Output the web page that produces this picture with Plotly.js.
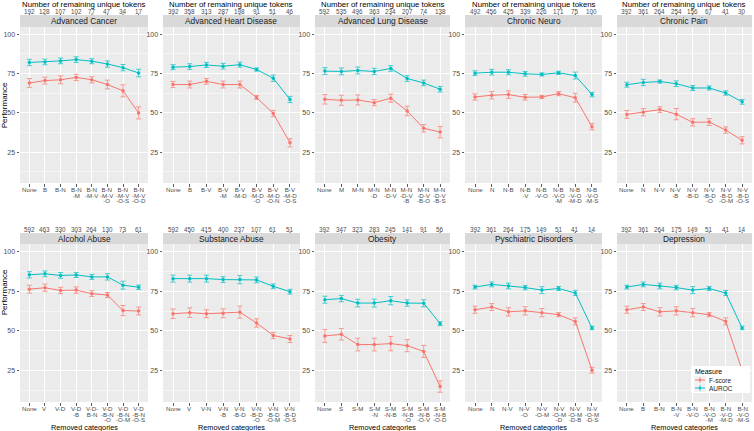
<!DOCTYPE html>
<html>
<head>
<meta charset="utf-8">
<script src="https://cdn.plot.ly/plotly-3.0.1.min.js"></script>
<style>html,body{margin:0;padding:0;background:#fff}#chart{width:754px;height:431px}</style>
</head>
<body>
<div id="chart"></div>
<script>
const panelTitles = ['Advanced Cancer','Advanced Heart Disease','Advanced Lung Disease','Chronic Neuro','Chronic Pain',
  'Alcohol Abuse','Substance Abuse','Obesity','Pyschiatric Disorders','Depression'];

const categories = [
  ['None','B','B-N','B-N<br>-M','B-N<br>-M-V','B-N<br>-M-V<br>-O','B-N<br>-M-V<br>-O-S','B-N<br>-M-V<br>-O-D'],
  ['None','B','B-V','B-V<br>-M','B-V<br>-M-D','B-V<br>-M-D<br>-O','B-V<br>-M-D<br>-O-N','B-V<br>-M-D<br>-O-S'],
  ['None','M','M-N','M-N<br>-D','M-N<br>-D-V','M-N<br>-D-V<br>-B','M-N<br>-D-V<br>-B-O','M-N<br>-D-V<br>-B-S'],
  ['None','N','N-B','N-B<br>-V','N-B<br>-V-O','N-B<br>-V-O<br>-M','N-B<br>-V-O<br>-M-D','N-B<br>-V-O<br>-M-S'],
  ['None','N','N-V','N-V<br>-B','N-V<br>-B-D','N-V<br>-B-D<br>-O','N-V<br>-B-D<br>-O-M','N-V<br>-B-D<br>-O-S'],
  ['None','V','V-D','V-D<br>-B','V-D-<br>B-N','V-D<br>-B-N<br>-O','V-D<br>-B-N<br>-O-M','V-D<br>-B-N<br>-O-S'],
  ['None','V','V-N','V-N<br>-B','V-N<br>-B-D','V-N<br>-B-D<br>-O','V-N<br>-B-D<br>-O-M','V-N<br>-B-D<br>-O-S'],
  ['None','S','S-M','S-M<br>-N','S-M<br>-N-B','S-M<br>-N-B<br>-O','S-M<br>-N-B<br>-O-V','S-M<br>-N-B<br>-O-D'],
  ['None','N','N-V','N-V<br>-O','N-V<br>-O-M','N-V<br>-O-M<br>-D','N-V<br>-O-M<br>-D-B','N-V<br>-O-M<br>-D-S'],
  ['None','B','B-N','B-N<br>-V','B-N<br>-V-O','B-N<br>-V-O<br>-M','B-N<br>-V-O<br>-M-D','B-N<br>-V-O<br>-M-S']
];

const tokens = [
  [192,128,107,102,77,47,34,17],
  [392,358,313,287,198,91,51,46],
  [592,535,496,363,234,207,74,138],
  [492,456,425,339,226,171,75,100],
  [392,361,264,254,156,67,41,30],
  [592,463,330,303,264,130,73,61],
  [592,450,415,400,237,107,61,51],
  [392,347,323,283,245,141,91,56],
  [392,361,264,175,149,51,41,14],
  [392,361,264,175,149,51,41,14]
];

const aurocMean = [
  [82,82.3,83,83.8,82.8,81,78.7,75.3],
  [79,79.4,80.4,79.6,80.6,77.5,72,58.5],
  [76.5,76.3,76.9,76.3,78.2,71.8,69,65],
  [75.2,75.8,75.8,74.8,74.4,75.4,73.7,61.6],
  [67.9,69.3,69.9,68.5,65.8,65.8,62.6,57],
  [85.2,85.8,84.8,85.1,83.9,83.9,78.7,77.4],
  [82.8,82.8,82.8,82.2,82.2,82,78,74.6],
  [69.6,70.3,67.5,67.5,69,67.5,67.4,54.6],
  [77.5,79.2,78.2,77.2,75.6,76.6,73.8,51.9],
  [77.5,79.2,78.2,77.2,75.6,76.6,73.8,51.9]
];
const aurocErr = [
  [2,1.8,1.8,1.8,1.6,2,2,2.4],
  [1.6,1.8,1.6,1.8,1.6,1,2,2],
  [2.2,2.2,2.2,2,1.8,1.8,1.8,1.8],
  [1.5,1.8,1.6,1.5,1,1,2.2,1.4],
  [1.6,2,1,1.8,1.6,1.3,1.4,1.5],
  [2,1.8,1.8,1.6,1.6,2,2.5,1.4],
  [2.2,2.2,2.2,1.8,2.6,1.8,1.5,1.5],
  [2.2,2,2.4,2.5,2.6,2,2.2,1.2],
  [1.2,1.5,1.8,1.4,2.2,1.3,1.6,1.1],
  [1.2,1.5,1.8,1.4,2.2,1.3,1.6,1.1]
];
const fscoreMean = [
  [69,70.5,71,72.5,71,68,64,50],
  [68,68,70,68,68,59.8,49.6,31],
  [58.6,58,58.2,56.5,59.3,51.2,40.2,37.8],
  [60.1,61.2,61.6,59.9,60.1,62.2,59.6,41.2],
  [49,50.4,52.1,49.2,44,44.2,39.1,32.6],
  [76.2,77.1,75.4,75.6,73.4,72.5,62.8,62.5],
  [60.8,61.5,60.8,61.1,61.8,55,47.2,45],
  [46.9,47.9,41.5,41.5,42.1,40.8,37.2,15.2],
  [63.3,65,62,62.6,61.5,60.2,56,25.4],
  [63.3,65,62,62.6,61.5,60.2,56,25.4]
];
const fscoreErr = [
  [2.8,2.2,2.5,2,2,2.8,3.8,3.8],
  [2,2.2,1.8,2.2,2.2,1.2,2,2.6],
  [3,3.2,3.2,2,2.6,3,2.4,3.6],
  [2,2.4,2.4,1.8,1,1.3,2.8,2],
  [2.5,2.3,1.8,3.6,2.3,2.2,2,2.3],
  [2.5,2.3,2,2,1.8,1.6,3.2,2.5],
  [3,3,2.5,2.8,3.8,2.6,2,2.2],
  [4,3.6,4,4,4.5,3.8,3.8,3.6],
  [2.2,2.2,2.6,2.6,2.6,1.3,2.2,1.8],
  [2.2,2.2,2.6,2.6,2.6,1.3,2.2,1.8]
];
const measures = ['F-score','AUROC'];
const yTicks = [25,50,75,100];

const W = 754, H = 431;
const colPx = [[20,148],[163,300],[315,450],[465,602],[617,752]];
const rowPx = [[27,183],[244,402]];
const stripPx = [[15,27],[233,244]];
const colors = {'F-score':'#F8766D','AUROC':'#00BFC4'};
const px2x = p => p / W;
const px2y = p => 1 - p / H;
const FONT = "'Liberation Sans', Arial, sans-serif";
const LABEL_PX = 6.2;      // glyph size of category labels
const LABEL_STEP = 5.5;    // tight line spacing of category labels

const data = [];
const layout = {
  width: W, height: H,
  margin: {l:0, r:0, t:0, b:0},
  paper_bgcolor: '#FFFFFF',
  plot_bgcolor: '#EBEBEB',
  font: {family: FONT, color: '#000'},
  showlegend: false,
  shapes: [], annotations: []
};

for (let i = 0; i < 10; i++) {
  const row = Math.floor(i / 5), col = i % 5;
  const n = i + 1;
  const xs = 'x' + n, ys = 'y' + n;
  const xd = [px2x(colPx[col][0]), px2x(colPx[col][1])];
  const yd = [px2y(rowPx[row][1]), px2y(rowPx[row][0])];
  const series = [[fscoreMean[i], fscoreErr[i]], [aurocMean[i], aurocErr[i]]];
  measures.forEach((m, k) => {
    data.push({
      type: 'scatter', mode: 'lines+markers',
      x: categories[i], y: series[k][0],
      xaxis: xs, yaxis: ys, name: m,
      line: {color: colors[m], width: 1},
      marker: {color: colors[m], size: 3.5},
      error_y: {type: 'data', array: series[k][1], visible: true, color: colors[m], thickness: 0.7, width: 2.5}
    });
  });
  layout['xaxis' + n] = {
    domain: xd, anchor: ys, type: 'category',
    categoryorder: 'array', categoryarray: categories[i],
    range: [-0.6, 7.6], showgrid: true, gridcolor: '#FFFFFF', gridwidth: 1,
    zeroline: false, showline: false, showticklabels: false,
    ticks: 'outside', ticklen: 2.5, tickcolor: '#333333', tickwidth: 0.8
  };
  layout['yaxis' + n] = {
    domain: yd, anchor: xs, range: [5.5, 104.5],
    tickvals: yTicks, showgrid: true, gridcolor: '#FFFFFF', gridwidth: 1,
    zeroline: false, showline: false,
    ticks: 'outside', ticklen: 2.5, tickcolor: '#333333', tickwidth: 0.8,
    tickfont: {size: 7, color: '#4D4D4D'},
    minor: {tickvals: [12.5, 37.5, 62.5, 87.5], showgrid: true, gridcolor: '#FFFFFF', gridwidth: 0.5, ticks: ''}
  };
  layout.shapes.push({
    type: 'rect', xref: 'paper', yref: 'paper',
    x0: xd[0], x1: xd[1], y0: px2y(stripPx[row][1]), y1: px2y(stripPx[row][0]),
    fillcolor: '#D9D9D9', line: {width: 0}, layer: 'below'
  });
  layout.annotations.push({
    xref: 'paper', yref: 'paper', x: (xd[0] + xd[1]) / 2,
    y: px2y((stripPx[row][0] + stripPx[row][1]) / 2),
    text: panelTitles[i], showarrow: false, xanchor: 'center', yanchor: 'middle',
    font: {size: 8.3, color: '#1A1A1A'}
  });
  categories[i].forEach((c, j) => {
    const txt = c.split('<br>').map(l => '<span style="font-size:' + LABEL_PX + 'px">' + l + '</span>').join('<br>');
    layout.annotations.push({
      xref: xs, yref: 'paper', x: j, y: px2y(rowPx[row][1] + 2.4),
      text: txt, showarrow: false, xanchor: 'center', yanchor: 'top', align: 'center',
      borderpad: 0, font: {size: LABEL_STEP / 1.3, color: '#4D4D4D'}
    });
  });
  tokens[i].forEach((t, j) => {
    layout.annotations.push({
      xref: xs, yref: 'paper', x: j, y: px2y(stripPx[row][0] - 3.4),
      text: String(t), showarrow: false, xanchor: 'center', yanchor: 'middle',
      borderpad: 0, font: {size: 6.3, color: '#4D4D4D'}
    });
    layout.shapes.push({
      type: 'line', xref: xs, yref: 'paper', x0: j, x1: j,
      y0: px2y(stripPx[row][0]), y1: px2y(stripPx[row][0] - 1.2),
      line: {color: '#333333', width: 0.8}
    });
  });
  if (row === 0) {
    layout.annotations.push({
      xref: 'paper', yref: 'paper', x: (xd[0] + xd[1]) / 2, y: px2y(4.5),
      text: 'Number of remaining unique tokens', showarrow: false, xanchor: 'center', yanchor: 'middle',
      borderpad: 0, font: {size: 7.8, color: '#000'}
    });
  } else {
    layout.annotations.push({
      xref: 'paper', yref: 'paper', x: (xd[0] + xd[1]) / 2, y: px2y(427.0),
      text: 'Removed categories', showarrow: false, xanchor: 'center', yanchor: 'middle',
      borderpad: 0, font: {size: 7.3, color: '#000'}
    });
  }
}
[105, 292].forEach(yc => {
  layout.annotations.push({
    xref: 'paper', yref: 'paper', x: px2x(4.3), y: px2y(yc), text: 'Performance',
    textangle: -90, showarrow: false, xanchor: 'center', yanchor: 'middle',
    borderpad: 0, font: {size: 8, color: '#000'}
  });
});

const lg = {x0: 691, x1: 750, y0: 366, y1: 393};
layout.shapes.push({type: 'rect', xref: 'paper', yref: 'paper',
  x0: px2x(lg.x0), x1: px2x(lg.x1), y0: px2y(lg.y1), y1: px2y(lg.y0),
  fillcolor: '#FFFFFF', line: {width: 0}});
layout.annotations.push({xref: 'paper', yref: 'paper', x: px2x(693.5), y: px2y(371.3), text: 'Measure',
  showarrow: false, xanchor: 'left', yanchor: 'middle', borderpad: 0, font: {size: 7, color: '#000'}});
measures.forEach((m, k) => {
  const yy = 380 + 8 * k;
  layout.shapes.push({type: 'rect', xref: 'paper', yref: 'paper',
    x0: px2x(694), x1: px2x(706), y0: px2y(yy + 4), y1: px2y(yy - 4), fillcolor: '#F2F2F2', line: {width: 0}});
  layout.shapes.push({type: 'line', xref: 'paper', yref: 'paper',
    x0: px2x(695), x1: px2x(705), y0: px2y(yy), y1: px2y(yy), line: {color: colors[m], width: 1}});
  layout.shapes.push({type: 'line', xref: 'paper', yref: 'paper',
    x0: px2x(700), x1: px2x(700), y0: px2y(yy - 3), y1: px2y(yy + 3), line: {color: colors[m], width: 0.7}});
  layout.shapes.push({type: 'circle', xref: 'paper', yref: 'paper',
    x0: px2x(698.8), x1: px2x(701.2), y0: px2y(yy + 1.2), y1: px2y(yy - 1.2),
    fillcolor: colors[m], line: {width: 0}});
  layout.annotations.push({xref: 'paper', yref: 'paper', x: px2x(708), y: px2y(yy), text: m,
    showarrow: false, xanchor: 'left', yanchor: 'middle', borderpad: 0, font: {size: 6.5, color: '#1A1A1A'}});
});

Plotly.newPlot('chart', data, layout, {staticPlot: true, displayModeBar: false});
</script>
</body>
</html>
